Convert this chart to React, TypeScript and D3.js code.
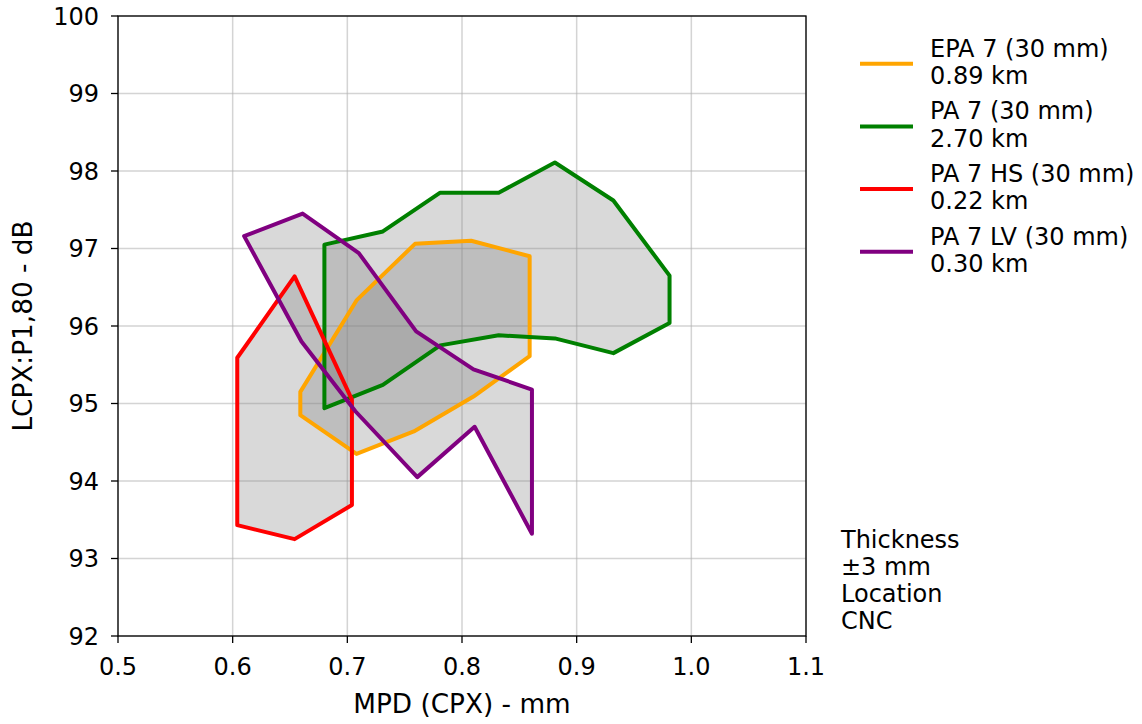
import React, { useEffect } from "react";
import * as d3 from "d3";

const seriesNames = ["EPA 7 (30 mm)", "PA 7 (30 mm)", "PA 7 HS (30 mm)", "PA 7 LV (30 mm)"];
const seriesDistances = ["0.89 km", "2.70 km", "0.22 km", "0.30 km"];
const seriesColors = ["#FFA500", "#008000", "#FF0000", "#800080"];

const epa7: [number, number][] = [
  [0.659, 94.85], [0.659, 95.15], [0.708, 96.33], [0.759, 97.06], [0.808, 97.10],
  [0.859, 96.90], [0.859, 95.61], [0.810, 95.09], [0.758, 94.64], [0.708, 94.35],
];
const pa7: [number, number][] = [
  [0.680, 97.05], [0.731, 97.22], [0.781, 97.72], [0.832, 97.72], [0.881, 98.11],
  [0.932, 97.62], [0.981, 96.65], [0.981, 96.04], [0.932, 95.65], [0.881, 95.84],
  [0.832, 95.88], [0.781, 95.75], [0.731, 95.24], [0.680, 94.94],
];
const pa7hs: [number, number][] = [
  [0.654, 96.64], [0.704, 95.05], [0.704, 93.69], [0.654, 93.25], [0.604, 93.43], [0.604, 95.59],
];
const pa7lv: [number, number][] = [
  [0.610, 97.16], [0.661, 97.45], [0.710, 96.94], [0.760, 95.93], [0.810, 95.44],
  [0.861, 95.18], [0.861, 93.32], [0.811, 94.70], [0.761, 94.05], [0.707, 94.90], [0.660, 95.80],
];
const seriesData = [epa7, pa7, pa7hs, pa7lv];

const xTicks = [0.5, 0.6, 0.7, 0.8, 0.9, 1.0, 1.1];
const yTicks = [92, 93, 94, 95, 96, 97, 98, 99, 100];
const noteLines = ["Thickness", "\u00b13 mm", "Location", "CNC"];

const W = 1142;
const H = 724;
const left = 118, right = 806, top = 16, bottom = 636;
const font = "'DejaVu Sans', sans-serif";
const fs = 24;
const labelFs = 26.3;

export default function App() {
  useEffect(() => {
    document.body.style.margin = "0";
  }, []);
  const x = d3.scaleLinear().domain([0.5, 1.1]).range([left, right]);
  const y = d3.scaleLinear().domain([92, 100]).range([bottom, top]);
  const line = d3
    .line<[number, number]>()
    .x((d) => x(d[0]))
    .y((d) => y(d[1]))
    .curve(d3.curveLinearClosed);

  return (
    <svg width={W} height={H} style={{ display: "block", background: "#fff" }} fontFamily={font}>
      {xTicks.map((t) => (
        <line key={"gx" + t} x1={x(t)} x2={x(t)} y1={top} y2={bottom} stroke="#b0b0b0" strokeOpacity={0.55} strokeWidth={1.5} />
      ))}
      {yTicks.map((t) => (
        <line key={"gy" + t} x1={left} x2={right} y1={y(t)} y2={y(t)} stroke="#b0b0b0" strokeOpacity={0.55} strokeWidth={1.5} />
      ))}
      {seriesData.map((d, i) => (
        <path key={"f" + i} d={line(d) || ""} fill="#808080" fillOpacity={0.3} stroke="none" />
      ))}
      {seriesData.map((d, i) => (
        <path key={"l" + i} d={line(d) || ""} fill="none" stroke={seriesColors[i]} strokeWidth={4} strokeLinejoin="round" />
      ))}
      <rect x={left} y={top} width={right - left} height={bottom - top} fill="none" stroke="#000" strokeWidth={1.3} />
      {xTicks.map((t) => (
        <g key={"xt" + t}>
          <line x1={x(t)} x2={x(t)} y1={bottom} y2={bottom + 7} stroke="#000" strokeWidth={1.3} />
          <text x={x(t)} y={675} textAnchor="middle" fontSize={fs} fill="#000">
            {t.toFixed(1)}
          </text>
        </g>
      ))}
      {yTicks.map((t) => (
        <g key={"yt" + t}>
          <line x1={left - 7} x2={left} y1={y(t)} y2={y(t)} stroke="#000" strokeWidth={1.3} />
          <text x={99} y={y(t)} dy="0.36em" textAnchor="end" fontSize={fs} fill="#000">
            {t}
          </text>
        </g>
      ))}
      <text x={(left + right) / 2} y={712.5} textAnchor="middle" fontSize={labelFs} fill="#000">
        MPD (CPX) - mm
      </text>
      <text transform={`translate(32,${(top + bottom) / 2}) rotate(-90)`} textAnchor="middle" fontSize={labelFs} fill="#000">
        LCPX:P1,80 - dB
      </text>
      {seriesNames.map((name, i) => {
        const off = i * 62.7;
        return (
          <g key={"lg" + i}>
            <line x1={860} x2={913} y1={63.7 + off} y2={63.7 + off} stroke={seriesColors[i]} strokeWidth={4} />
            <text x={930} y={56.7 + off} fontSize={fs} fill="#000">
              {name}
            </text>
            <text x={930} y={84 + off} fontSize={fs} fill="#000">
              {seriesDistances[i]}
            </text>
          </g>
        );
      })}
      {noteLines.map((s, i) => (
        <text key={"n" + i} x={841} y={547.5 + i * 27} fontSize={fs} fill="#000">
          {s}
        </text>
      ))}
    </svg>
  );
}
